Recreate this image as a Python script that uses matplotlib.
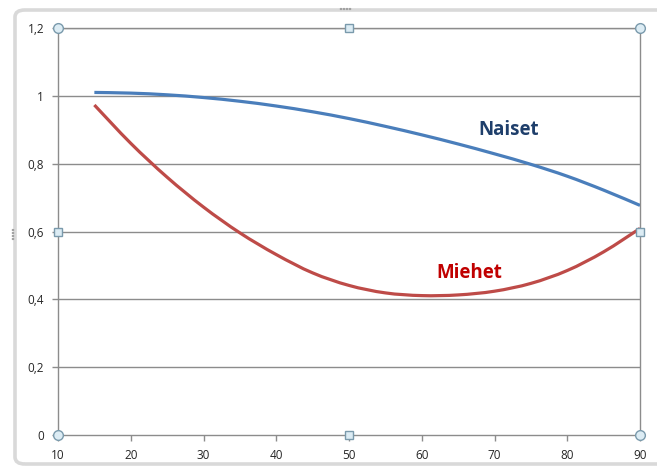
import matplotlib
matplotlib.use("Agg")
import matplotlib.pyplot as plt
from matplotlib.patches import FancyBboxPatch, PathPatch
from matplotlib.path import Path

# Age (years) and relative values for each group
ages = [15, 20, 25, 30, 35, 40, 45, 50, 55, 60, 65, 70, 75, 80, 85, 90]
naiset = [1.010, 1.008, 1.003, 0.995, 0.984, 0.970, 0.953, 0.933,
          0.910, 0.885, 0.858, 0.829, 0.798, 0.763, 0.722, 0.677]
miehet = [0.973, 0.860, 0.760, 0.672, 0.596, 0.532, 0.478, 0.441,
          0.419, 0.411, 0.413, 0.424, 0.447, 0.485, 0.540, 0.609]

x_ticks = [10, 20, 30, 40, 50, 60, 70, 80, 90]
y_ticks = [0, 0.2, 0.4, 0.6, 0.8, 1.0, 1.2]
y_tick_labels = ["0", "0,2", "0,4", "0,6", "0,8", "1", "1,2"]


def smooth_path(xs, ys):
    """Smoothed line through the points (Catmull-Rom as cubic Bezier segments)."""
    pts = list(zip(xs, ys))
    n = len(pts)
    verts = [pts[0]]
    codes = [Path.MOVETO]
    for i in range(n - 1):
        p0 = pts[i - 1] if i > 0 else pts[i]
        p1 = pts[i]
        p2 = pts[i + 1]
        p3 = pts[i + 2] if i + 2 < n else pts[i + 1]
        c1 = (p1[0] + (p2[0] - p0[0]) / 6, p1[1] + (p2[1] - p0[1]) / 6)
        c2 = (p2[0] - (p3[0] - p1[0]) / 6, p2[1] - (p3[1] - p1[1]) / 6)
        verts += [c1, c2, p2]
        codes += [Path.CURVE4] * 3
    return Path(verts, codes)


W, H = 657, 469
fig = plt.figure(figsize=(W / 100, H / 100), dpi=100)
fig.patch.set_facecolor("white")

# Chart-area frame with rounded corners
frame = FancyBboxPatch((15 / W, 1 - 464 / H), 700 / W, (464 - 10) / H,
                       boxstyle="round,pad=0,rounding_size=0.015",
                       transform=fig.transFigure, facecolor="none",
                       edgecolor="#d9d9d9", linewidth=2.6, zorder=0)
fig.patches.append(frame)
# small grip dots on the frame
for gx, gy in [(341, 9), (344, 9), (347, 9), (350, 9)]:
    fig.patches.append(plt.Circle((gx / W, 1 - gy / H), 0.6 / W,
                                  transform=fig.transFigure, color="#a0a0a0"))
for gx, gy in [(13, 230), (13, 233), (13, 236), (13, 239)]:
    fig.patches.append(plt.Circle((gx / W, 1 - gy / H), 0.6 / W,
                                  transform=fig.transFigure, color="#a0a0a0"))

left, right, top, bottom = 58, 640, 28, 435
ax = fig.add_axes([left / W, 1 - bottom / H, (right - left) / W, (bottom - top) / H])
ax.set_xlim(10, 90)
ax.set_ylim(0, 1.2)

grid_color = "#8c8c8c"
for y in y_ticks[1:]:
    ax.axhline(y, color=grid_color, linewidth=1.0, zorder=1)

for side in ["left", "bottom", "right", "top"]:
    ax.spines[side].set_color(grid_color)
    ax.spines[side].set_linewidth(1.0)

ax.set_xticks(x_ticks)
ax.set_xticklabels([str(v) for v in x_ticks])
ax.set_yticks(y_ticks)
ax.set_yticklabels(y_tick_labels)
ax.tick_params(axis="both", direction="out", length=4, width=1.0,
               color=grid_color, labelsize=8.5, labelcolor="#262626", pad=6)
for lbl in ax.get_xticklabels() + ax.get_yticklabels():
    lbl.set_family("Open Sans")

for values, color in [(naiset, "#4a7ebb"), (miehet, "#be4b48")]:
    ax.add_patch(PathPatch(smooth_path(ages, values), facecolor="none",
                           edgecolor=color, linewidth=2.3, capstyle="butt",
                           zorder=3))

ax.text(71.9, 0.9, "Naiset", color="#1f3f6b", fontsize=13.5, fontweight="bold",
        family="Open Sans", ha="center", va="center", zorder=4)
ax.text(66.6, 0.478, "Miehet", color="#c00000", fontsize=13.5, fontweight="bold",
        family="Open Sans", ha="center", va="center", zorder=4)

# selection handles on the plot area
handle_face = "#dcecf4"
handle_edge = "#7a9aac"
ax.plot([10, 90, 10, 90], [1.2, 1.2, 0, 0], linestyle="none", marker="o",
        markersize=7, markerfacecolor=handle_face, markeredgecolor=handle_edge,
        markeredgewidth=1.0, clip_on=False, zorder=6)
ax.plot([50, 50, 10, 90], [1.2, 0, 0.6, 0.6], linestyle="none", marker="s",
        markersize=5.5, markerfacecolor=handle_face, markeredgecolor=handle_edge,
        markeredgewidth=1.0, clip_on=False, zorder=6)

fig.savefig("out.png", dpi=100, facecolor="white")
